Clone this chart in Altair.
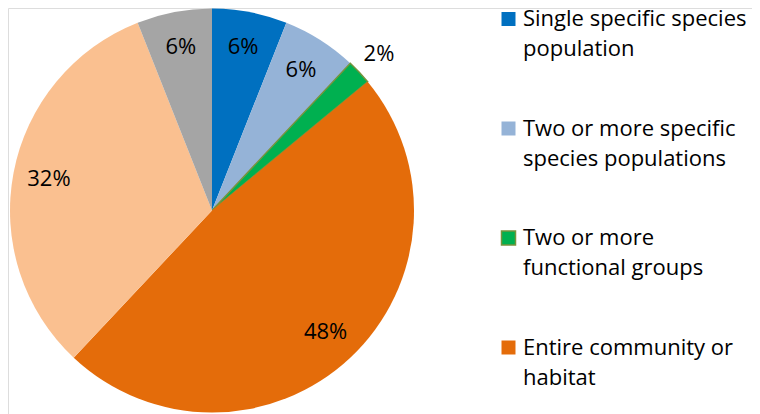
import altair as alt
import pandas as pd

categories = [
    "Single specific species population",
    "Two or more specific species populations",
    "Two or more functional groups",
    "Entire community or habitat",
    "Other A",
    "Other B",
]
legend_labels = [
    "Single specific species\npopulation",
    "Two or more specific\nspecies populations",
    "Two or more\nfunctional groups",
    "Entire community or\nhabitat",
    "",
    "",
]
values = [6, 6, 2, 48, 32, 6]
pct_labels = ["6%", "6%", "2%", "48%", "32%", "6%"]
fill_colors = ["#0070C0", "#95B3D7", "#00B050", "#E46C0A", "#FAC090", "#A5A5A5"]
stroke_colors = ["#0070C0", "#95B3D7", "#77933C", "#E46C0A", "#FAC090", "#A5A5A5"]
outside = [False, False, True, False, False, False]
in_legend = [True, True, True, True, False, False]

df = pd.DataFrame({
    "cat": categories,
    "leg": legend_labels,
    "value": values,
    "pct": pct_labels,
    "idx": list(range(len(categories))),
    "outside": outside,
    "inleg": in_legend,
})

FONT = "Open Sans"
fill_scale = alt.Scale(domain=categories, range=fill_colors)
stroke_scale = alt.Scale(domain=categories, range=stroke_colors)

base = alt.Chart(df).encode(
    theta=alt.Theta("value:Q", stack=True),
    order=alt.Order("idx:Q", sort="ascending"),
)

cx, cy, R = 204, 202.5, 202

arcs = base.mark_arc(radius=R).encode(
    x=alt.value(cx), y=alt.value(cy),
    fill=alt.Fill("cat:N", scale=fill_scale, legend=None),
    stroke=alt.Stroke("cat:N", scale=stroke_scale, legend=None),
    strokeWidth=alt.condition("datum.outside", alt.value(1.5), alt.value(0)),
)

inner = base.transform_calculate(
    lab="datum.outside ? '' : datum.pct"
).mark_text(radius=166, font=FONT, fontSize=22, color="#000000",
            align="center", baseline="middle").encode(
    x=alt.value(cx), y=alt.value(cy), text="lab:N")

outer = base.transform_calculate(
    lab="datum.outside ? datum.pct : ''"
).mark_text(radius=229, font=FONT, fontSize=22, color="#000000",
            align="center", baseline="middle").encode(
    x=alt.value(cx), y=alt.value(cy), text="lab:N")

yscale = alt.Scale(type="point", domain=categories, range=[11, 558.5], padding=0)

leg_sq = alt.Chart(df).transform_filter("datum.inleg").mark_square(size=196, opacity=1).encode(
    x=alt.value(500.5),
    y=alt.Y("cat:N", scale=yscale, axis=None),
    fill=alt.Fill("cat:N", scale=fill_scale, legend=None),
    stroke=alt.Stroke("cat:N", scale=stroke_scale, legend=None),
    strokeWidth=alt.condition("datum.outside", alt.value(1.5), alt.value(0)),
)

leg_txt = alt.Chart(df).transform_filter("datum.inleg").mark_text(
    align="left", baseline="alphabetic", dy=7, lineBreak="\n", lineHeight=30,
    font=FONT, fontSize=22, color="#000000").encode(
    x=alt.value(515),
    y=alt.Y("cat:N", scale=yscale, axis=None),
    text="leg:N",
)

chart = alt.layer(arcs, inner, outer, leg_sq, leg_txt).properties(
    width=744, height=406, padding=0,
    autosize=alt.AutoSizeParams(type="none"),
).configure_view(stroke=None).configure(background="#ffffff")

chart.save("out.html", embed_options={"renderer": "svg", "actions": False})
